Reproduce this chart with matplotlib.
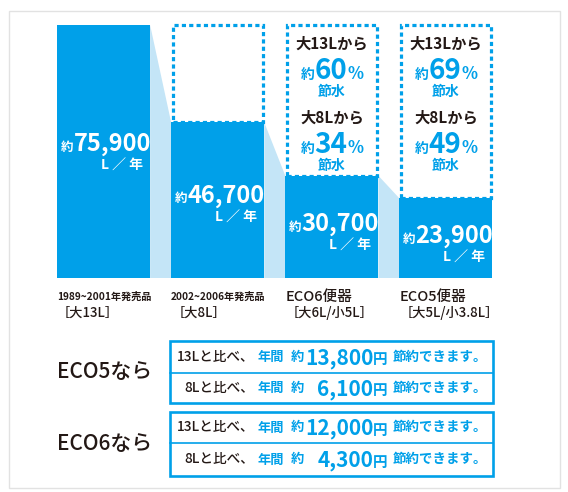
import matplotlib
matplotlib.use('Agg')
import matplotlib.pyplot as plt
import matplotlib.transforms as mtransforms
from matplotlib.patches import Rectangle
from matplotlib.offsetbox import TextArea, HPacker, AnnotationBbox

plt.rcParams['font.family'] = ['Noto Sans CJK JP', 'DejaVu Sans']

BLUE = '#00a0e9'
LIGHT = '#c4e5f7'
INK = '#231815'

# data
years = ['1989~2001年発売品', '2002~2006年発売品', 'ECO6便器', 'ECO5便器']
flush = ['［大13L］', '［大8L］', '［大6L/小5L］', '［大5L/小3.8L］']
usage = [75900, 46700, 30700, 23900]      # L / year
save_13 = [None, None, 60, 69]            # % saved vs 13L
save_8 = [None, None, 34, 49]             # % saved vs 8L
plans = ['ECO5なら', 'ECO6なら']
base = ['13L', '8L']
yen = [[13800, 6100], [12000, 4300]]      # yen saved per year


def seq(axes, x, y, parts, coords='data', align=(0.5, 0.5)):
    # mixed size text run, baseline aligned
    boxes = [TextArea(s, textprops=dict(fontsize=fs, color=c, fontweight=fw))
             for s, fs, c, fw in parts]
    pack = HPacker(children=boxes, align='baseline', pad=0, sep=0)
    ab = AnnotationBbox(pack, (x, y), xycoords=coords, frameon=False,
                        box_alignment=align, pad=0)
    ab.set_zorder(6)
    axes.add_artist(ab)


fig = plt.figure(figsize=(5.68, 4.92), dpi=100)
fig.patch.set_facecolor('white')

# pixel overlay for the frame and the bottom panel
bg = fig.add_axes([0, 0, 1, 1])
bg.set_xlim(0, 568)
bg.set_ylim(492, 0)
bg.axis('off')
bg.add_patch(Rectangle((9, 11), 551, 477, fill=False, ec='#e2e2e2', lw=1))

# bar chart
ax = fig.add_axes([46.5 / 568, (492 - 278) / 492, 456.5 / 568, 253 / 492])
ax.set_xlim(-0.5, 3.5)
ax.set_ylim(0, max(usage))
ax.axis('off')

w = 93 / 114
xs = list(range(len(usage)))
ax.bar(xs, usage, width=w, color=BLUE, zorder=3)

for i in range(len(usage) - 1):
    ax.fill([i + w / 2, i + 1 - w / 2, i + 1 - w / 2, i + w / 2],
            [usage[i], usage[i + 1], 0, 0], color=LIGHT, lw=0, zorder=1)

inset = 1.5 / 114
for i in range(1, len(usage)):
    ax.add_patch(Rectangle((i - w / 2 + inset, usage[i]), w - 2 * inset,
                           usage[0] - usage[i], fill=False, ec=BLUE, lw=2.3,
                           ls=(0, (1.3, 1.0)), zorder=2, clip_on=False))

for i, v in enumerate(usage):
    seq(ax, i + 0.02, v * 0.53, [('約', 9, 'white', 'bold'),
                                 (f'{v:,}', 17, 'white', 'bold')])
    ax.annotate('L ／ 年', (i + w / 2, v * 0.53), xytext=(-7, -22),
                textcoords='offset pixels', ha='right', va='center',
                fontsize=10, color='white', fontweight='bold', zorder=6)

tr = mtransforms.blended_transform_factory(ax.transData, bg.transData)
for i in xs:
    small = i < 2
    ax.text(i - w / 2, 297, years[i], transform=tr, ha='left', va='center',
            fontsize=7.3 if small else 10.5, color=INK,
            fontweight='bold' if small else 'medium')
    ax.text(i - w / 2, 313, flush[i], transform=tr, ha='left', va='center',
            fontsize=9.5, color=INK, fontweight='medium')

for i in xs:
    if save_13[i] is None:
        continue
    for (lab, pct), y0 in zip([('大13Lから', save_13[i]), ('大8Lから', save_8[i])], [43, 117]):
        ax.text(i, y0, lab, transform=tr, ha='center', va='center',
                fontsize=11, fontweight='bold', color=INK)
        seq(ax, i, y0 + 28, [('約', 10, BLUE, 'bold'), (str(pct), 20, BLUE, 'bold'),
                             ('%', 12, BLUE, 'bold')], coords=tr)
        ax.text(i, y0 + 49, '節水', transform=tr, ha='center', va='center',
                fontsize=10, fontweight='bold', color=BLUE)

# bottom panel
boxes = [(341, 373, 403), (412, 443, 476)]
for k, plan in enumerate(plans):
    top, mid, bot = boxes[k]
    bg.add_patch(Rectangle((170, top), 323, bot - top, fill=False, ec=BLUE, lw=1.9))
    bg.plot([170, 493], [mid, mid], color=BLUE, lw=1.2)
    bg.text(57, (top + bot) / 2, plan, ha='left', va='center', fontsize=15,
            color=INK, fontweight='medium')
    for j, yc in enumerate([(top + mid) / 2, (mid + bot) / 2]):
        bg.text(254, yc, f'{base[j]}と比べ、', ha='right', va='center',
                fontsize=9.8, color=INK, fontweight='medium')
        bg.text(258, yc, '年間', ha='left', va='center', fontsize=9.5,
                color=BLUE, fontweight='bold')
        bg.text(291, yc, '約', ha='left', va='center', fontsize=9.5,
                color=BLUE, fontweight='bold')
        seq(bg, 388, yc + 1, [(f'{yen[k][j]:,}', 15, BLUE, 'bold'),
                              ('円', 10.5, BLUE, 'bold')], align=(1, 0.5))
        bg.text(393, yc, '節約できます。', ha='left', va='center', fontsize=9.7,
                color=BLUE, fontweight='bold')

fig.savefig('out.png', dpi=100, facecolor='white')
